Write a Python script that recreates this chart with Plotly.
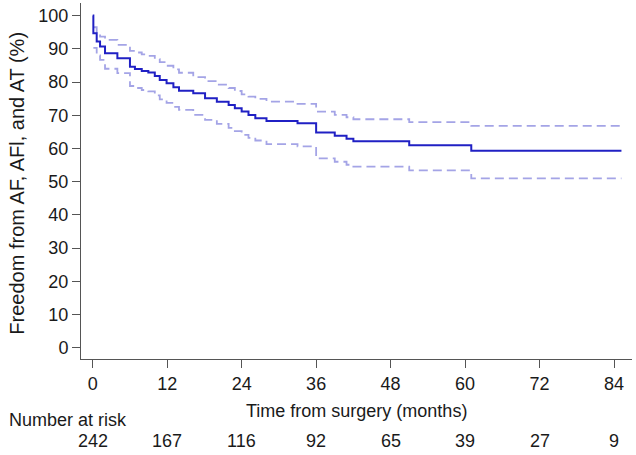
import plotly.graph_objects as go

# Kaplan-Meier step times (months) and survival estimates (%)
times = [0, 0.1, 0.64, 1.18, 1.98, 3.97, 6.0, 6.8, 7.9, 8.96, 10.0, 10.8, 11.9, 13.0, 13.9,
         16.2, 18.1, 20.0, 21.9, 22.9, 24.0, 25.1, 26.2, 28.0, 33.0, 36.0, 39.0, 40.9,
         42.0, 51.0, 61.0, 85.2]
surv = [100, 94.7, 92.2, 90.7, 88.7, 87.2, 84.6, 83.9, 83.3, 82.9, 81.8, 80.6, 79.6, 78.4, 77.4,
        76.6, 75.1, 74.1, 73.1, 72.1, 71.1, 70.1, 69.1, 68.3, 67.6, 64.8, 63.8, 62.9,
        62.2, 61.0, 59.3, 59.3]
ci_times = times[1:]
upper = [96.5, 95.0, 93.7, 92.7, 91.2, 89.4, 88.9, 88.3, 87.9, 86.9, 86.0, 84.9, 83.8, 82.8,
         81.5, 80.3, 79.2, 78.2, 77.3, 76.3, 75.6, 74.9, 74.1, 73.4, 71.1, 70.1, 69.4,
         68.8, 67.9, 66.8, 66.8]
lower = [90.3, 88.0, 86.7, 84.0, 82.7, 78.8, 78.2, 77.6, 77.2, 76.0, 74.8, 73.7, 72.5, 71.6,
         70.1, 68.6, 67.4, 66.2, 65.2, 64.1, 63.2, 62.4, 61.3, 60.6, 57.0, 56.0, 55.1,
         54.5, 53.4, 51.0, 51.0]

x_ticks = [0, 12, 24, 36, 48, 60, 72, 84]
at_risk = [242, 167, 116, 92, 65, 39, 27, 9]
y_ticks = list(range(0, 101, 10))

main_color = "#2020c4"
ci_color = "#a4a4e6"
font_family = "Liberation Sans, Arial, sans-serif"
text_color = "#1a1a1a"

fig = go.Figure()
fig.add_trace(go.Scatter(x=ci_times, y=upper, mode="lines", line_shape="hv",
                         line=dict(color=ci_color, width=1.8, dash="9px,5px"), showlegend=False))
fig.add_trace(go.Scatter(x=ci_times, y=lower, mode="lines", line_shape="hv",
                         line=dict(color=ci_color, width=1.8, dash="9px,5px"), showlegend=False))
fig.add_trace(go.Scatter(x=times, y=surv, mode="lines", line_shape="hv",
                         line=dict(color=main_color, width=2), showlegend=False))

fig.update_layout(
    width=636, height=455,
    margin=dict(l=81, r=4, t=3, b=96),
    paper_bgcolor="white", plot_bgcolor="white",
    font=dict(family=font_family, size=18, color=text_color),
    xaxis=dict(range=[-1.89, 86.9], tickvals=x_ticks, ticktext=[str(v) for v in x_ticks],
               showgrid=False, zeroline=False, showline=True, linecolor="#555555", linewidth=1,
               ticks="outside", ticklen=8, tickcolor="#555555", tickfont=dict(size=18)),
    yaxis=dict(range=[-3.4, 103.8], tickvals=y_ticks, showgrid=False, zeroline=False,
               showline=True, linecolor="#555555", linewidth=1,
               ticks="outside", ticklen=8, tickcolor="#555555", tickfont=dict(size=18)),
)

annotations = [
    dict(text="Freedom from AF, AFl, and AT (%)", xref="paper", yref="paper",
         x=(17.5 - 81) / 551, y=0.494, textangle=-90, showarrow=False, font=dict(size=20),
         xanchor="center", yanchor="middle"),
    dict(text="Time from surgery (months)", xref="paper", yref="paper",
         x=(356 - 81) / 551, y=(359 - 411) / 356, showarrow=False, font=dict(size=18),
         xanchor="center", yanchor="middle"),
    dict(text="Number at risk", xref="paper", yref="paper",
         x=(7 - 81) / 551, y=(359 - 420) / 356, showarrow=False, font=dict(size=18),
         xanchor="left", yanchor="middle"),
]
for t, n in zip(x_ticks, at_risk):
    annotations.append(dict(text=str(n), xref="x", yref="paper", x=t, y=(359 - 441) / 356,
                            showarrow=False, font=dict(size=18), xanchor="center", yanchor="middle"))
fig.update_layout(annotations=annotations)

fig.write_html("out.html", config={"displayModeBar": False},
               post_script="document.body.style.margin='0';")
